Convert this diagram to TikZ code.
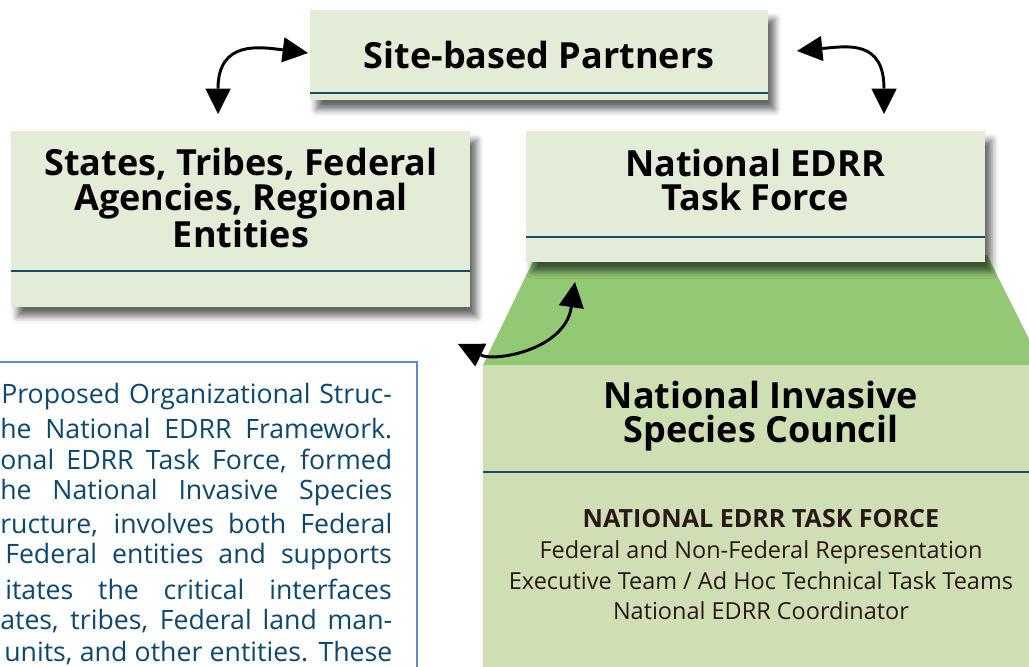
\documentclass[tikz,border=0pt]{standalone}
\usepackage{fontspec}
\setmainfont{Open Sans}
\usetikzlibrary{arrows.meta,shadows.blur}
\definecolor{boxgreen}{RGB}{227,236,214}
\definecolor{darkgreen}{RGB}{147,200,116}
\definecolor{palegreen}{RGB}{207,223,179}
\definecolor{ruleblue}{RGB}{22,75,105}
\definecolor{frameblue}{RGB}{91,143,203}
\definecolor{textblue}{RGB}{12,72,110}
\definecolor{textbrown}{RGB}{42,24,24}

\begin{document}
\begin{tikzpicture}[x=0.75pt,y=0.75pt,yscale=-1,xscale=1,
  box/.style={fill=boxgreen, blur shadow={shadow xshift=5pt, shadow yshift=-7pt, shadow blur radius=5pt, shadow opacity=60}},
  sepline/.style={draw=ruleblue, line width=1.5pt},
  title/.style={font=\bfseries\fontsize{27}{26}\selectfont, align=center, inner sep=0pt},
  twoway/.style={draw=black, line width=2.2pt, {Triangle[length=19pt,width=19pt,fill=black,line width=0pt]}-{Triangle[length=19pt,width=19pt,fill=black,line width=0pt]}},
  body/.style={font=\fontsize{20}{24}\selectfont, text=textblue, anchor=west, inner sep=0pt},
  ]
\useasboundingbox (0,0) rectangle (1029,667);
\clip (0,0) rectangle (1029,667);

%Caption frame
\draw [draw=frameblue, line width=1.5pt, fill=white] (-10,362) rectangle (417,700) ;

%Council base
\fill [darkgreen] (536,255) -- (987,255) -- (1042,365) -- (483,365) -- cycle ;
\fill [palegreen] (483,365) rectangle (1040,680) ;
\draw [sepline] (483,472) -- (1040,472) ;

%Boxes
\fill [box] (526,131) rectangle (985,262) ;
\draw [sepline] (526,237) -- (985,237) ;
\fill [box] (11,131) rectangle (470,307) ;
\draw [sepline] (11,271) -- (470,271) ;
\fill [box] (310,10) rectangle (768,100) ;
\draw [sepline] (310,93) -- (768,93) ;

% Text Node
\draw (539,55) node [title] (partners) {Site-based Partners};
% Text Node
\draw (241,198) node [title] (states) {States, Tribes, Federal\\Agencies, Regional\\Entities};
% Text Node
\draw (755,180) node [title] (taskforce) {National EDRR\\Task Force};
% Text Node
\draw (761,416) node [title] (council) {National Invasive\\Species Council};
% Text Node
\draw (761,565) node [align=center, inner sep=0pt, text=textbrown, font=\fontsize{17.6}{23}\selectfont] (members) {{\bfseries\fontsize{18.8}{23}\selectfont NATIONAL EDRR TASK FORCE}\\Federal and Non-Federal Representation\\Executive Team / Ad Hoc Technical Task Teams\\National EDRR Coordinator};

%Arrow ends
\coordinate (pl) at (308,53);
\coordinate (sn) at (218,114);
\coordinate (pr) at (797,51);
\coordinate (tn) at (884,114);
\coordinate (cw) at (458,344);
\coordinate (tf) at (575,282);

\draw [twoway] (pl) .. controls (260,47) and (218,40) .. (sn) ;
\draw [twoway] (pr) .. controls (848,46) and (884,40) .. (tn) ;
\draw [twoway] (cw) .. controls (495,362) and (565,350) .. (tf) ;

% Caption lines
\draw (1,397) node [body] (cap1) {\makebox[293pt][s]{Proposed Organizational Struc-}};
\draw (0,429) node [body] (cap2) {\makebox[294pt][s]{he National EDRR Framework.}};
\draw (0,461) node [body] (cap3) {\makebox[294pt][s]{onal EDRR Task Force, formed}};
\draw (0,493) node [body] (cap4) {\makebox[294pt][s]{he National Invasive Species}};
\draw (0,525) node [body] (cap5) {\makebox[294pt][s]{ructure, involves both Federal}};
\draw (5,557) node [body] (cap6) {\makebox[290pt][s]{Federal entities and supports}};
\draw (5,589) node [body] (cap7) {\makebox[290pt][s]{itates the critical interfaces}};
\draw (0,621) node [body] (cap8) {\makebox[294pt][s]{ates, tribes, Federal land man-}};
\draw (4,653) node [body] (cap9) {\makebox[291pt][s]{units, and other entities. These}};

\end{tikzpicture}
\end{document}
